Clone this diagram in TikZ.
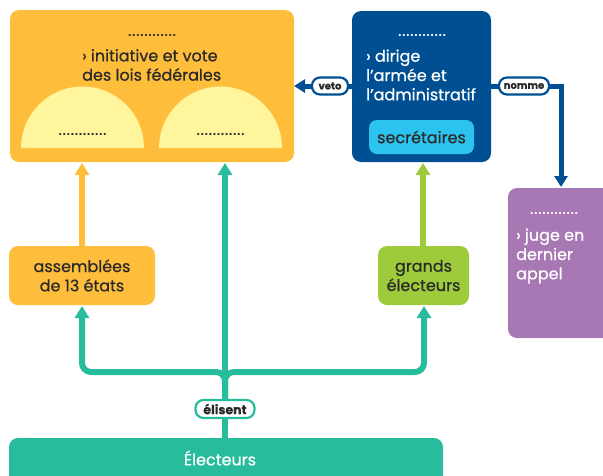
\documentclass[tikz,border=0pt]{standalone}
\usepackage{fontspec}
\setmainfont{Poppins}[FakeBold=0.6]
\newfontfamily\dotfont[LetterSpace=6,FakeBold=1]{Poppins}
\usetikzlibrary{arrows.meta}
\definecolor{cyel}{HTML}{FEBD3B}
\definecolor{cdome}{HTML}{FFF59D}
\definecolor{cblue}{HTML}{004F93}
\definecolor{csec}{HTML}{2DC3F0}
\definecolor{cpur}{HTML}{A878B4}
\definecolor{cgrn}{HTML}{9DCB3B}
\definecolor{cteal}{HTML}{26BC9C}
\definecolor{ctxt}{HTML}{2A2A2A}
\tikzset{
  box/.style={rounded corners=9pt, inner sep=0pt},
  maintext/.style={font=\fontsize{16}{19.3}\selectfont, inner sep=0pt},
  pill/.style={draw, fill=white, line width=2.2pt, rounded corners=8pt, inner sep=0pt,
     font=\fontsize{10}{11}\selectfont\bfseries, text=ctxt},
  dotline/.style={font=\fontsize{15}{15}\selectfont\dotfont, inner sep=0pt},
  bigarrow/.style={line width=6pt, -{Triangle[width=14pt,length=12pt]}},
  midarrow/.style={line width=5pt, -{Triangle[width=13pt,length=11pt]}}
}
\begin{document}
\begin{tikzpicture}[x=1pt,y=-1pt]
\useasboundingbox (0,0) rectangle (603,475);
% boxes
\node[box, fill=cyel, minimum width=284, minimum height=152] (congress) at (152,86) {};
\node[box, fill=cblue, minimum width=139, minimum height=151] (pres) at (421.5,86.5) {};
\node[box, fill=cpur, minimum width=110, minimum height=150] (court) at (563,263) {};
\node[box, fill=cyel, minimum width=146, minimum height=59] (assem) at (82,275.5) {};
\node[box, fill=cgrn, minimum width=91, minimum height=59] (grands) at (423.5,275.5) {};
\node[box, fill=cteal, minimum width=434, minimum height=50] (elect) at (226,463) {};
% domes
\fill[cdome] (21,148) arc[start angle=180, end angle=360, radius=61.5] -- cycle;
\fill[cdome] (159,148) arc[start angle=180, end angle=360, radius=61.5] -- cycle;
% texts congress
\node[dotline, text=ctxt] (cdots) at (152,35) {............};
\node[maintext, text=ctxt, align=left, anchor=west] (ctext) at (82,65) {› initiative et vote\\des lois fédérales};
\node[dotline, text=ctxt] (d1) at (82.5,134) {............};
\node[dotline, text=ctxt] (d2) at (220.5,134) {............};
% president
\node[dotline, text=white] (pdots) at (422,35) {............};
\node[maintext, text=white, align=left, anchor=west] (ptext) at (366,75) {› dirige\\l’armée et\\l’administratif};
\node[box, fill=csec, rounded corners=8pt, minimum width=105, minimum height=34, text=ctxt,
      font=\fontsize{16}{16}\selectfont] (sec) at (421.5,137) {secrétaires};
% court
\node[dotline, text=white] (jdots) at (554,213) {............};
\node[maintext, text=white, align=left, anchor=west] (jtext) at (516,256) {› juge en\\dernier\\appel};
% small boxes text
\node[maintext, text=ctxt, align=center] (atext) at (82,275.5) {assemblées\\de 13 états};
\node[maintext, text=ctxt, align=center] (gtext) at (423.5,275.5) {grands\\électeurs};
\node[inner sep=0pt, text=white, font=\fontsize{16}{16}\selectfont] (etext) at (220,458) {Électeurs};
% coordinates
\coordinate (stemb) at (225,438);
\coordinate (fork) at (225,400);
\coordinate (ctop1) at (82,163);
\coordinate (ctop2) at (225,163);
\coordinate (ptop) at (423,163);
\coordinate (abot) at (82,306);
\coordinate (gbot) at (424,306);
% arrows
\draw[bigarrow, cyel] (assem.north -| ctop1) -- (ctop1);
\draw[bigarrow, cgrn] (grands.north -| ptop) -- (ptop);
\draw[bigarrow, cteal] (stemb) -- (ctop2);
\draw[bigarrow, cteal, rounded corners=9pt] (fork) |- (82,372) -- (abot);
\draw[bigarrow, cteal, rounded corners=9pt] (fork) |- (424,372) -- (gbot);
\draw[midarrow, cblue] (pres.west |- 0,86) -- (294,86);
\draw[midarrow, cblue] (pres.east |- 0,86) -| (561,187);
% pills
\node[pill, draw=cblue, minimum width=36, minimum height=17] (veto) at (330,86) {veto};
\node[pill, draw=cblue, minimum width=50, minimum height=17] (nomme) at (524,86) {nomme};
\node[pill, draw=cteal, minimum width=59, minimum height=18, font=\fontsize{12.5}{13}\selectfont\bfseries] (elisent) at (225,409) {élisent};
\end{tikzpicture}
\end{document}
